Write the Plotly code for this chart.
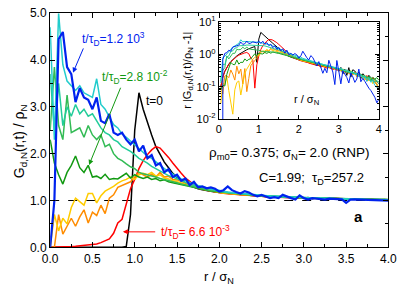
import plotly.graph_objects as go

# r / sigma_N grid (step 0.05 from 0.0 to 4.0)
r = [round(0.05 * k, 2) for k in range(81)]
SIGMA_N = 2.0
BASELINE = 1.0

g_t0 = [0, 0, 0, 0, 0, 0, 0, 0, 0, 0,
        0, 0, 0, 0, 0, 0, 0, 0, 0.02, 0.7,
        2.5, 3.3, 2.95, 2.65, 2.4, 2.15, 1.98, 1.82, 1.7, 1.58,
        1.5, 1.43, 1.37, 1.32, 1.28, 1.25, 1.23, 1.21, 1.2, 1.18,
        1.17, 1.16, 1.15, 1.14, 1.13, 1.125, 1.12, 1.11, 1.10, 1.095,
        1.09, 1.085, 1.08, 1.078, 1.075, 1.07, 1.068, 1.065, 1.062, 1.06,
        1.05, 1.065, 1.04, 1.055, 1.035, 1.06, 1.03, 1.05, 1.045, 1.035,
        1.04, 1.025, 1.035, 1.03, 1.02, 1.03, 1.025, 1.02, 1.018, 1.015,
        1.01]

g_red = [0, 0, 0.005, 0.01, 0.01, 0.015, 0.02, 0.03, 0.035, 0.045,
         0.05, 0.07, 0.1, 0.14, 0.18, 0.3, 0.52, 0.6, 0.95, 1.25,
         1.45, 1.68, 1.85, 1.98, 2.08, 2.15, 2.12, 2.03, 1.92, 1.8,
         1.68, 1.58, 1.48, 1.4, 1.34, 1.29, 1.25, 1.22, 1.2, 1.18,
         1.17, 1.155, 1.145, 1.14, 1.13, 1.12, 1.115, 1.105, 1.10, 1.095,
         1.09, 1.08, 1.082, 1.075, 1.07, 1.072, 1.065, 1.06, 1.062, 1.055,
         1.06, 1.05, 1.055, 1.045, 1.05, 1.04, 1.045, 1.035, 1.04, 1.03,
         1.035, 1.03, 1.028, 1.025, 1.03, 1.022, 1.02, 1.025, 1.02, 1.018,
         1.015]

g_orange = [0, 0.0, 0.7, 0.28, 0.45, 0.62, 0.45, 0.65, 0.8, 0.52,
            0.75, 0.68, 0.9, 0.72, 1.05, 1.12, 1.28, 1.32, 1.36, 1.4,
            1.5, 1.6, 1.55, 1.5, 1.56, 1.5, 1.6, 1.5, 1.52, 1.45,
            1.44, 1.4, 1.37, 1.34, 1.3, 1.28, 1.25, 1.23, 1.21, 1.19,
            1.18, 1.16, 1.155, 1.14, 1.135, 1.125, 1.12, 1.11, 1.105, 1.1,
            1.095, 1.085, 1.09, 1.08, 1.075, 1.07, 1.072, 1.065, 1.06, 1.058,
            1.055, 1.06, 1.05, 1.045, 1.05, 1.04, 1.045, 1.038, 1.04, 1.032,
            1.03, 1.035, 1.025, 1.03, 1.022, 1.025, 1.02, 1.022, 1.018, 1.015,
            1.012]

g_yellow = [0, 0.7, 0.35, 0.62, 0.5, 0.85, 1.05, 0.98, 0.9, 1.15,
            1.15, 0.95, 1.1, 1.2, 1.25, 1.3, 1.37, 1.42, 1.45, 1.5,
            1.45, 1.55, 1.58, 1.55, 1.6, 1.52, 1.55, 1.48, 1.46, 1.42,
            1.4, 1.37, 1.35, 1.31, 1.28, 1.26, 1.24, 1.22, 1.2, 1.18,
            1.17, 1.16, 1.15, 1.145, 1.135, 1.13, 1.12, 1.115, 1.11, 1.1,
            1.1, 1.09, 1.085, 1.08, 1.085, 1.075, 1.07, 1.068, 1.065, 1.06,
            1.06, 1.05, 1.058, 1.045, 1.05, 1.04, 1.048, 1.035, 1.042, 1.03,
            1.035, 1.028, 1.03, 1.022, 1.028, 1.02, 1.024, 1.016, 1.02, 1.015,
            1.012]

g_dkgreen = [2.3, 1.8, 1.55, 1.35, 1.6, 1.75, 1.95, 1.7, 1.6, 1.75,
             1.5, 1.52, 1.47, 1.56, 1.45, 1.47, 1.46, 1.52, 1.58, 1.48,
             1.55, 1.5, 1.47, 1.5, 1.45, 1.47, 1.42, 1.44, 1.4, 1.38,
             1.36, 1.34, 1.31, 1.29, 1.27, 1.25, 1.23, 1.22, 1.2, 1.19,
             1.18, 1.17, 1.16, 1.15, 1.14, 1.13, 1.125, 1.12, 1.11, 1.105,
             1.1, 1.095, 1.09, 1.085, 1.08, 1.078, 1.072, 1.07, 1.065, 1.062,
             1.06, 1.055, 1.052, 1.05, 1.045, 1.048, 1.04, 1.042, 1.036, 1.038,
             1.032, 1.035, 1.028, 1.03, 1.025, 1.028, 1.02, 1.025, 1.022, 1.024,
             1.02]

g_green = [2.5, 3.85, 2.6, 2.3, 3.25, 2.45, 2.5, 2.55, 2.35, 2.6,
           2.4, 2.3, 2.4, 2.15, 2.2, 2.0, 1.9, 1.85, 1.78, 1.72,
           1.68, 1.6, 1.57, 1.55, 1.52, 1.5, 1.47, 1.45, 1.42, 1.4,
           1.38, 1.35, 1.33, 1.3, 1.28, 1.26, 1.24, 1.22, 1.21, 1.2,
           1.19, 1.17, 1.165, 1.15, 1.145, 1.135, 1.13, 1.12, 1.115, 1.105,
           1.1, 1.098, 1.09, 1.088, 1.08, 1.075, 1.074, 1.068, 1.066, 1.06,
           1.058, 1.056, 1.05, 1.052, 1.045, 1.042, 1.044, 1.038, 1.04, 1.033,
           1.034, 1.03, 1.032, 1.026, 1.028, 1.022, 1.026, 1.02, 1.023, 1.018,
           1.018]

g_teal = [3.7, 2.5, 3.5, 2.6, 3.0, 2.8, 3.05, 2.85, 2.95, 2.8,
          2.85, 2.7, 2.55, 2.45, 2.4, 2.3, 2.25, 2.15, 2.1, 2.05,
          1.98, 1.9, 1.85, 1.8, 1.73, 1.68, 1.63, 1.58, 1.53, 1.5,
          1.46, 1.42, 1.38, 1.35, 1.32, 1.3, 1.27, 1.25, 1.23, 1.21,
          1.2, 1.18, 1.17, 1.16, 1.15, 1.14, 1.13, 1.125, 1.12, 1.11,
          1.105, 1.1, 1.095, 1.09, 1.085, 1.08, 1.076, 1.07, 1.068, 1.064,
          1.06, 1.058, 1.054, 1.05, 1.048, 1.044, 1.046, 1.04, 1.038, 1.035,
          1.03, 1.034, 1.028, 1.03, 1.024, 1.026, 1.02, 1.022, 1.018, 1.02,
          1.015]

g_cyan = [4.7, 2.3, 5.0, 3.9, 3.55, 3.45, 3.35, 3.45, 3.3, 3.25,
          3.2, 3.6, 3.05, 2.95, 2.78, 2.62, 2.55, 2.42, 2.35, 2.27,
          2.2, 2.1, 2.02, 1.95, 1.9, 1.82, 1.75, 1.68, 1.62, 1.56,
          1.51, 1.46, 1.42, 1.38, 1.35, 1.32, 1.29, 1.27, 1.25, 1.23,
          1.21, 1.2, 1.18, 1.17, 1.16, 1.15, 1.14, 1.13, 1.12, 1.11,
          1.105, 1.1, 1.095, 1.09, 1.085, 1.08, 1.078, 1.072, 1.07, 1.065,
          1.06, 1.062, 1.055, 1.05, 1.052, 1.045, 1.04, 1.043, 1.036, 1.038,
          1.03, 1.033, 1.025, 1.028, 1.02, 1.024, 1.018, 1.02, 1.014, 1.012,
          1.01]

g_blue = [0, 1.0, 4.45, 4.6, 3.85, 3.7, 3.1, 3.4, 3.2, 3.15,
          2.95, 3.2, 2.7, 2.65, 2.85, 2.45, 2.4, 2.45, 2.3, 2.2,
          2.3, 2.05, 2.17, 1.9, 1.97, 1.75, 1.8, 1.6, 1.67, 1.5,
          1.55, 1.42, 1.47, 1.33, 1.4, 1.28, 1.3, 1.26, 1.28, 1.25,
          1.19, 1.22, 1.3, 1.22, 1.18, 1.15, 1.2, 1.17, 1.12, 1.09,
          1.12, 1.08, 1.05, 1.07, 1.05, 1.12, 1.08, 1.05, 1.02, 1.11,
          1.05, 1.02, 1.05, 1.04, 1.03, 1.02, 1.04, 1.03, 1.02, 1.025,
          0.95, 1.02, 1.025, 1.02, 1.015, 1.012, 1.01, 1.008, 1.006, 1.004,
          0.995]

series = [
    (g_t0, "#000000", 1.5),
    (g_red, "#ff0000", 1.5),
    (g_orange, "#ff8c00", 1.5),
    (g_yellow, "#ffcc00", 1.5),
    (g_dkgreen, "#119911", 1.5),
    (g_green, "#33bb55", 1.5),
    (g_teal, "#22cc99", 1.5),
    (g_cyan, "#22cccc", 1.5),
    (g_blue, "#0022ee", 2.2),
]

FONT = "Liberation Sans, Arial, Helvetica, sans-serif"
W, H = 407, 287


def px(xp):
    return xp / W


def py(yp):
    return (H - yp) / H


fig = go.Figure()

# dashed reference line at G/rho = 1
fig.add_trace(go.Scatter(x=[r[0], r[-1]], y=[BASELINE, BASELINE], mode="lines",
                         line=dict(color="black", width=1.2, dash="dash"),
                         xaxis="x", yaxis="y", showlegend=False, hoverinfo="skip"))

for g, col, w in series:
    fig.add_trace(go.Scatter(x=r, y=g, mode="lines", line=dict(color=col, width=w),
                             xaxis="x", yaxis="y", showlegend=False))

# inset: r |G/rho - 1| (r in units of sigma_N scaled by sigma_N)
for g, col, w in series:
    ri = r[1:]
    yi = [SIGMA_N * rr * abs(v - 1.0) for rr, v in zip(ri, g[1:])]
    fig.add_trace(go.Scatter(x=ri, y=yi, mode="lines", line=dict(color=col, width=1.0),
                             xaxis="x2", yaxis="y2", showlegend=False))

axis_common = dict(showline=True, linecolor="black", linewidth=1.3, mirror="ticks",
                   ticks="inside", tickcolor="black", showgrid=False, zeroline=False,
                   tickfont=dict(family=FONT, size=12, color="black"))

fig.update_layout(
    width=W, height=H,
    margin=dict(l=0, r=0, t=0, b=0),
    paper_bgcolor="white", plot_bgcolor="white",
    font=dict(family=FONT, color="black"),
    xaxis=dict(domain=[px(44), px(397)], range=[0, 4], dtick=0.5, tickformat=".1f",
               ticklen=5,
               minor=dict(dtick=0.25, ticks="inside", ticklen=3, tickcolor="black"),
               anchor="y", **axis_common),
    yaxis=dict(domain=[py(252.5), py(5.5)], range=[0, 5], dtick=1, tickformat=".1f",
               ticklen=5, minor=dict(dtick=0.5, ticks="inside", ticklen=3, tickcolor="black"),
               anchor="x", **axis_common),
    xaxis2=dict(domain=[px(220), px(387)], range=[0, 4], dtick=1, ticklen=4,
                minor=dict(dtick=0.5, ticks="inside", ticklen=2, tickcolor="black"),
                anchor="y2", showline=True, linecolor="black", linewidth=1, mirror="ticks",
                ticks="inside", tickcolor="black", showgrid=False, zeroline=False,
                tickfont=dict(family=FONT, size=11, color="black")),
    yaxis2=dict(domain=[py(117), py(15)], type="log", range=[-2, 1],
                tickvals=[0.01, 0.1, 1, 10],
                ticktext=["10<sup>-2</sup>", "10<sup>-1</sup>", "10<sup>0</sup>", "10<sup>1</sup>"],
                ticklen=4, minor=dict(dtick="D1", ticks="inside", ticklen=2, tickcolor="black"),
                anchor="x2", showline=True, linecolor="black", linewidth=1, mirror="ticks",
                ticks="inside", tickcolor="black", showgrid=False, zeroline=False,
                tickfont=dict(family=FONT, size=11, color="black")),
)

ann = []
# axis titles
ann.append(dict(text="r / σ<sub>N</sub>", x=px((44 + 397) / 2), y=py(284), xref="paper", yref="paper",
                xanchor="center", yanchor="middle", borderpad=0, showarrow=False,
                font=dict(size=13)))
ann.append(dict(text="G<sub>d,N</sub>(r,t) / ρ<sub>N</sub>", x=px(12), y=py(140),
                xref="paper", yref="paper", xanchor="center", yanchor="middle",
                textangle=-90, showarrow=False, font=dict(size=14)))
ann.append(dict(text="r |G<sub>d,N</sub>(r,t)/ρ<sub>N</sub> -1|", x=px(187), y=py(66),
                xref="paper", yref="paper", xanchor="center", yanchor="middle",
                textangle=-90, showarrow=False, font=dict(size=11)))
ann.append(dict(text="r / σ<sub>N</sub>", x=2.2, y=-1.4, xref="x2", yref="y2",
                showarrow=False, font=dict(size=11)))
# curve labels
ann.append(dict(text="t/τ<sub>D</sub>=1.2 10<sup>3</sup>", x=0.35, y=4.45, xref="x", yref="y",
                xanchor="left", showarrow=False, font=dict(size=12, color="#0022ee")))
ann.append(dict(x=0.27, y=3.73, ax=0.4, ay=4.28, xref="x", yref="y", axref="x", ayref="y",
                text="", showarrow=True, arrowhead=2, arrowsize=1, arrowwidth=1, arrowcolor="#0022ee"))
ann.append(dict(text="t/τ<sub>D</sub>=2.8 10<sup>-2</sup>", x=0.59, y=3.64, xref="x", yref="y",
                xanchor="left", showarrow=False, font=dict(size=12, color="#119911")))
ann.append(dict(x=0.46, y=1.76, ax=0.84, ay=3.44, xref="x", yref="y", axref="x", ayref="y",
                text="", showarrow=True, arrowhead=2, arrowsize=1, arrowwidth=1, arrowcolor="#119911"))
ann.append(dict(text="t=0", x=1.11, y=3.13, xref="x", yref="y", xanchor="left",
                showarrow=False, font=dict(size=12, color="black")))
ann.append(dict(text="t/τ<sub>D</sub>= 6.6 10<sup>-3</sup>", x=1.29, y=0.33, xref="x", yref="y",
                xanchor="left", showarrow=False, font=dict(size=12, color="#ff0000")))
ann.append(dict(x=0.86, y=0.33, ax=1.26, ay=0.33, xref="x", yref="y", axref="x", ayref="y",
                text="", showarrow=True, arrowhead=2, arrowsize=1, arrowwidth=1, arrowcolor="#ff0000"))
ann.append(dict(text="ρ<sub>m0</sub>= 0.375; σ<sub>N</sub>= 2.0 (RNP)", x=3.8, y=2.0, xref="x", yref="y",
                xanchor="right", showarrow=False, font=dict(size=13.5, color="black")))
ann.append(dict(text="C=1.99;  τ<sub>D</sub>=257.2", x=3.73, y=1.46, xref="x", yref="y",
                xanchor="right", showarrow=False, font=dict(size=13, color="black")))
ann.append(dict(text="<b>a</b>", x=3.65, y=0.66, xref="x", yref="y",
                showarrow=False, font=dict(size=15, color="black")))

fig.update_layout(annotations=ann)
fig.write_html("out.html", config={"displayModeBar": False},
               post_script="document.body.style.margin='0';document.body.style.padding='0';")
